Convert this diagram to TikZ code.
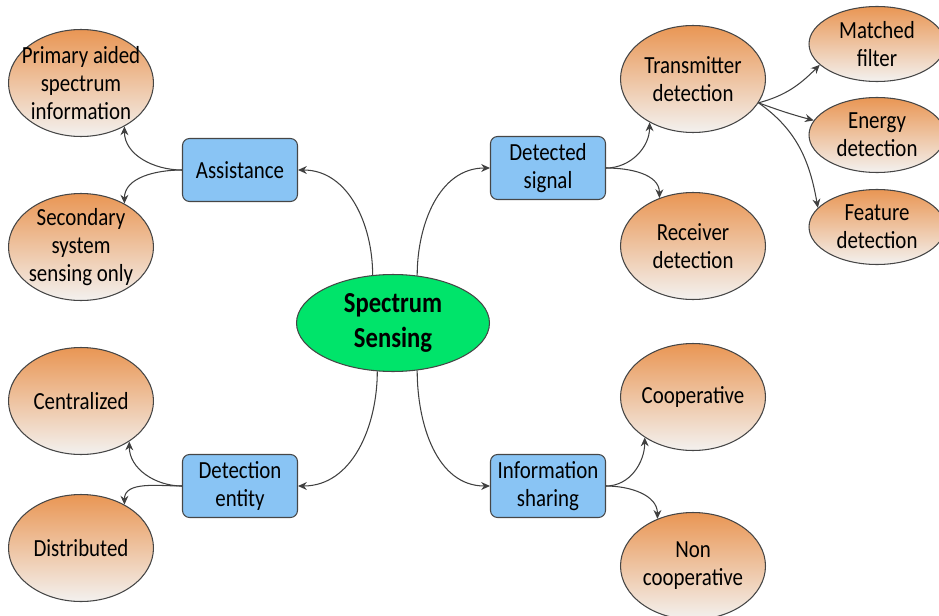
\documentclass[tikz,border=0pt]{standalone}
\usepackage{fontspec}
\setmainfont{Carlito}[FakeStretch=0.85]
\usetikzlibrary{arrows.meta, positioning, shapes.geometric}
\definecolor{ssgreen}{RGB}{0, 228, 106}
\definecolor{ssblue}{RGB}{137, 196, 244}
\definecolor{ssorange}{RGB}{233, 150, 84}
\definecolor{sswhite}{RGB}{243, 241, 239}
\definecolor{ssedge}{RGB}{70, 70, 70}
\definecolor{sslink}{RGB}{64, 64, 64}

\begin{document}
\begin{tikzpicture}[x=0.02cm, y=0.02cm,
  every node/.style={font=\fontsize{14}{15.9}\selectfont, align=center},
  topic/.style={ellipse, draw=ssedge, fill=ssgreen, line width=0.6pt, inner sep=0pt,
    minimum width=3.86cm, minimum height=1.94cm,
    font=\fontsize{16.5}{20.4}\selectfont\bfseries},
  branch/.style={draw=ssedge, fill=ssblue, line width=0.6pt, rounded corners=4pt,
    inner sep=1pt, minimum width=2.3cm, minimum height=1.26cm},
  leaf/.style={ellipse, draw=ssedge, line width=0.6pt, top color=ssorange, bottom color=sswhite,
    inner sep=0pt, minimum width=2.9cm, minimum height=2.14cm},
  subleaf/.style={leaf, minimum width=2.72cm, minimum height=1.5cm},
  link/.style={draw=sslink, line width=0.6pt, -{Stealth[length=5pt, width=4.5pt]}}
]
  % Frame
  \useasboundingbox (0,0) rectangle (939,-615);
  \clip (0,0) rectangle (939,-615);

  % Centre
  \node[topic] (ss) at (393,-323) {Spectrum\\Sensing};

  % Branches
  \node[branch] (as) at (240,-170) {Assistance};
  \node[branch] (ds) at (548,-168) {Detected\\signal};
  \node[branch] (de) at (240,-486) {Detection\\entity};
  \node[branch] (is) at (548,-486) {Information\\sharing};

  % Leaves, left side
  \node[leaf, label=center:{Primary aided\\spectrum\\information}] (pa) at (81,-83) {};
  \node[leaf, label=center:{Secondary\\system\\sensing only}] (so) at (81,-247) {};
  \node[leaf, label=center:{Centralized}] (ce) at (81,-401) {};
  \node[leaf, label=center:{Distributed}] (di) at (81,-548) {};

  % Leaves, right side
  \node[leaf, label=center:{Transmitter\\detection}] (tx) at (693,-79) {};
  \node[leaf, label=center:{Receiver\\detection}] (rx) at (693,-246) {};
  \node[leaf, label=center:{Cooperative}] (co) at (693,-397) {};
  \node[leaf, label=center:{Non\\cooperative}] (nc) at (693,-566) {};

  % Transmitter detection methods
  \node[subleaf, label=center:{Matched\\filter}] (mf) at (877,-44) {};
  \node[subleaf, label=center:{Energy\\detection}] (en) at (877,-135) {};
  \node[subleaf, label=center:{Feature\\detection}] (fe) at (877,-227) {};

  % Centre to branches
  \draw[link] (ss.113) to[out=90, in=0] (as.east);
  \draw[link] (ss.63) to[out=90, in=180] (ds.west);
  \draw[link] (ss.-108) to[out=-90, in=0] (de.east);
  \draw[link] (ss.-63) to[out=-90, in=180] (is.west);

  % Branches to leaves
  \draw[link] (as.west) to[out=180, in=-90] (pa.-45);
  \draw[link] (as.west) to[out=180, in=90] (so.45);
  \draw[link] (de.west) to[out=180, in=-90] (ce.-40);
  \draw[link] (de.west) to[out=180, in=90] (di.45);
  \draw[link] (ds.east) to[out=0, in=-90] (tx.-135);
  \draw[link] (ds.east) to[out=0, in=90] (rx.125);
  \draw[link] (is.east) to[out=0, in=-90] (co.-140);
  \draw[link] (is.east) to[out=0, in=90] (nc.127);

  % Transmitter to methods
  \draw[link] (tx.-20) to[out=15, in=-135] (mf.-160);
  \draw[link] (tx.-20) to[out=-20, in=165] (en.167);
  \draw[link] (tx.-20) to[out=-35, in=100] (fe.162);
\end{tikzpicture}
\end{document}
